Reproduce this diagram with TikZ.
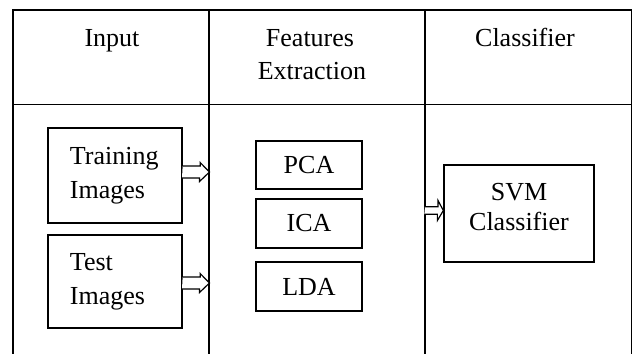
\documentclass[tikz,border=0pt]{standalone}
\usepackage{fontspec}
\setmainfont{Liberation Serif}
\usetikzlibrary{calc}
\begin{document}
\begin{tikzpicture}[x=1pt,y=-1pt,
  gridline/.style={line width=1.7pt, line cap=rect},
  box/.style={draw, line width=1.3pt, inner sep=0pt, font=\fontsize{26}{34}\selectfont},
  hdr/.style={anchor=base, inner sep=0pt, font=\fontsize{26}{33}\selectfont},
  barrow/.style={draw, fill=white, line width=1.2pt, line join=miter}]
\useasboundingbox (0,0) rectangle (633,354);
% table
\draw[gridline] (13,354) -- (13,10) -- (631.5,10) -- (631.5,354);
\draw[gridline] (209,10) -- (209,354);
\draw[gridline] (425,10) -- (425,354);
\draw[gridline] (13,104.5) -- (631.5,104.5);
% headers
\node[hdr] (hin) at (112,46) {Input};
\node[hdr] (hfe1) at (310,46) {Features};
\node[hdr] (hfe2) at (312,79) {Extraction};
\node[hdr] (hcl) at (525,46) {Classifier};
% input boxes
\node[box, minimum width=134pt, minimum height=95pt, text width=90pt, align=left] (train) at (115,175.5) {Training\\Images};
\node[box, minimum width=134pt, minimum height=93pt, text width=90pt, align=left] (test) at (115,281.5) {Test\\Images};
% feature boxes
\node[box, minimum width=106pt, minimum height=48pt] (pca) at (309,165) {PCA};
\node[box, minimum width=106pt, minimum height=49pt] (ica) at (309,223.5) {ICA};
\node[box, minimum width=106pt, minimum height=49pt] (lda) at (309,286.5) {LDA};
% classifier
\node[box, minimum width=150pt, minimum height=97pt, align=center, text depth=14pt, font=\fontsize{26}{30}\selectfont] (svm) at (519,213.5) {SVM\\Classifier};
% arrows
\coordinate (d1a) at (209.5,172);
\coordinate (d1b) at (209.5,283);
\coordinate (s0) at (425,210.5);
\draw[barrow] (train.east|-d1a) ++(0,-6) -- ++(17.5,0) -- ++(0,-3.5) -- (d1a) -- ++(-10,9.5) -- ++(0,-3.5) -- ++(-17.5,0);
\draw[barrow] (test.east|-d1b) ++(0,-6) -- ++(17.5,0) -- ++(0,-3.5) -- (d1b) -- ++(-10,9.5) -- ++(0,-3.5) -- ++(-17.5,0);
\draw[barrow] (s0) ++(0,-3.8) -- ++(13,0) -- ++(0,-6.2) -- (svm.west|-s0) -- ++(-6,10) -- ++(0,-6.2) -- ++(-13,0);
\end{tikzpicture}
\end{document}
